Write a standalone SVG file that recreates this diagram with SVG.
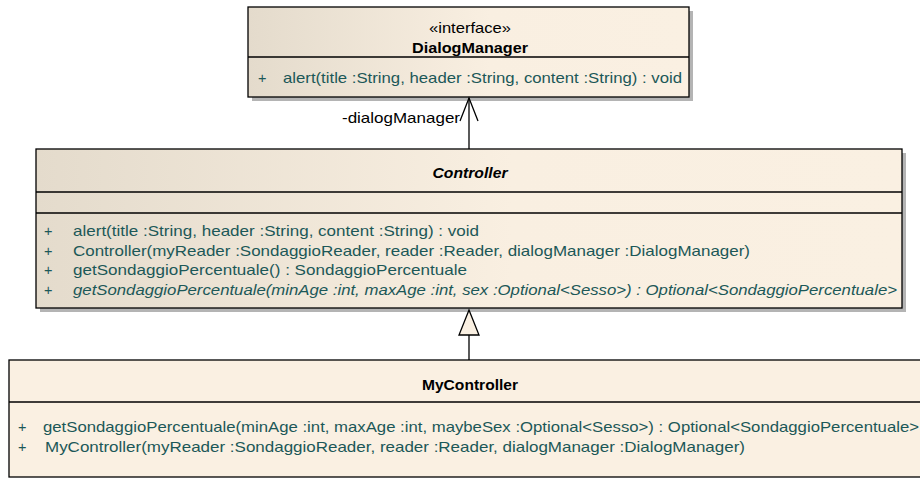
<svg xmlns="http://www.w3.org/2000/svg" width="920" height="479" viewBox="0 0 920 479">
<style>
.box{stroke:#000;stroke-width:1.3}
.shadow{fill:#b4b4b4}
.div{stroke:#000;stroke-width:1.3}
.t{font-family:"Liberation Sans",Arial,sans-serif;font-size:14.5px;fill:#1c5858}
.it{font-style:italic}
.n{font-family:"Liberation Sans",Arial,sans-serif;font-size:14.5px;fill:#000;font-weight:bold;text-anchor:middle}
.st{font-family:"Liberation Sans",Arial,sans-serif;font-size:14.5px;fill:#000;text-anchor:middle}
.lbl{font-family:"Liberation Sans",Arial,sans-serif;font-size:14.5px;fill:#000}
.line{stroke:#000;stroke-width:1.3;fill:none}
</style>
<defs>
<linearGradient id="g1" x1="0" y1="0" x2="1" y2="0">
<stop offset="0" stop-color="#e4dbcc"/>
<stop offset="0.55" stop-color="#f9efe1"/>
<stop offset="1" stop-color="#faf0e2"/>
</linearGradient>
</defs>
<rect width="920" height="479" fill="#fff"/>
<g id="DialogManager">
<rect class="shadow" x="252" y="11" width="441" height="90"/>
<rect class="box" x="248" y="7" width="441" height="90" fill="url(#g1)"/>
<line class="div" x1="248" y1="57" x2="689" y2="57"/>
<text class="st" x="470" y="33" textLength="82" lengthAdjust="spacingAndGlyphs">«interface»</text>
<text class="n" x="470" y="53" textLength="116" lengthAdjust="spacingAndGlyphs">DialogManager</text>
<text class="t" x="258" y="83">+</text>
<text class="t" x="283" y="83" textLength="399" lengthAdjust="spacingAndGlyphs">alert(title :String, header :String, content :String) : void</text>
</g>
<g id="Controller">
<rect class="shadow" x="40" y="153" width="866" height="159"/>
<rect class="box" x="36" y="149" width="866" height="159" fill="url(#g1)"/>
<line class="div" x1="36" y1="192" x2="902" y2="192"/>
<line class="div" x1="36" y1="213" x2="902" y2="213"/>
<text class="n it" x="470" y="178" textLength="75" lengthAdjust="spacingAndGlyphs">Controller</text>
<text class="t" x="44" y="236">+</text>
<text class="t" x="73" y="236" textLength="406" lengthAdjust="spacingAndGlyphs">alert(title :String, header :String, content :String) : void</text>
<text class="t" x="44" y="256">+</text>
<text class="t" x="73" y="256" textLength="677" lengthAdjust="spacingAndGlyphs">Controller(myReader :SondaggioReader, reader :Reader, dialogManager :DialogManager)</text>
<text class="t" x="44" y="275">+</text>
<text class="t" x="73" y="275" textLength="394" lengthAdjust="spacingAndGlyphs">getSondaggioPercentuale() : SondaggioPercentuale</text>
<text class="t" x="44" y="295">+</text>
<text class="t it" x="73" y="295" textLength="824" lengthAdjust="spacingAndGlyphs">getSondaggioPercentuale(minAge :int, maxAge :int, sex :Optional&lt;Sesso&gt;) : Optional&lt;SondaggioPercentuale&gt;</text>
</g>
<g id="MyController">
<rect class="box" x="9" y="360" width="920" height="117" fill="#faf0e2"/>
<line class="div" x1="9" y1="402" x2="920" y2="402"/>
<text class="n" x="470" y="390" textLength="96" lengthAdjust="spacingAndGlyphs">MyController</text>
<text class="t" x="18" y="432">+</text>
<text class="t" x="43" y="432" textLength="876" lengthAdjust="spacingAndGlyphs">getSondaggioPercentuale(minAge :int, maxAge :int, maybeSex :Optional&lt;Sesso&gt;) : Optional&lt;SondaggioPercentuale&gt;</text>
<text class="t" x="18" y="452">+</text>
<text class="t" x="45" y="452" textLength="700" lengthAdjust="spacingAndGlyphs">MyController(myReader :SondaggioReader, reader :Reader, dialogManager :DialogManager)</text>
</g>
<g id="connectors">
<line class="line" x1="469" y1="149" x2="469" y2="98"/>
<polyline class="line" points="460,121 469,98 478,121"/>
<text class="lbl" x="460" y="123" text-anchor="end" textLength="118" lengthAdjust="spacingAndGlyphs">-dialogManager</text>
<line class="line" x1="469" y1="360" x2="469" y2="335"/>
<polygon class="line" points="469,310 459,335 479,335" style="fill:#faf0e2"/>
</g>
</svg>
